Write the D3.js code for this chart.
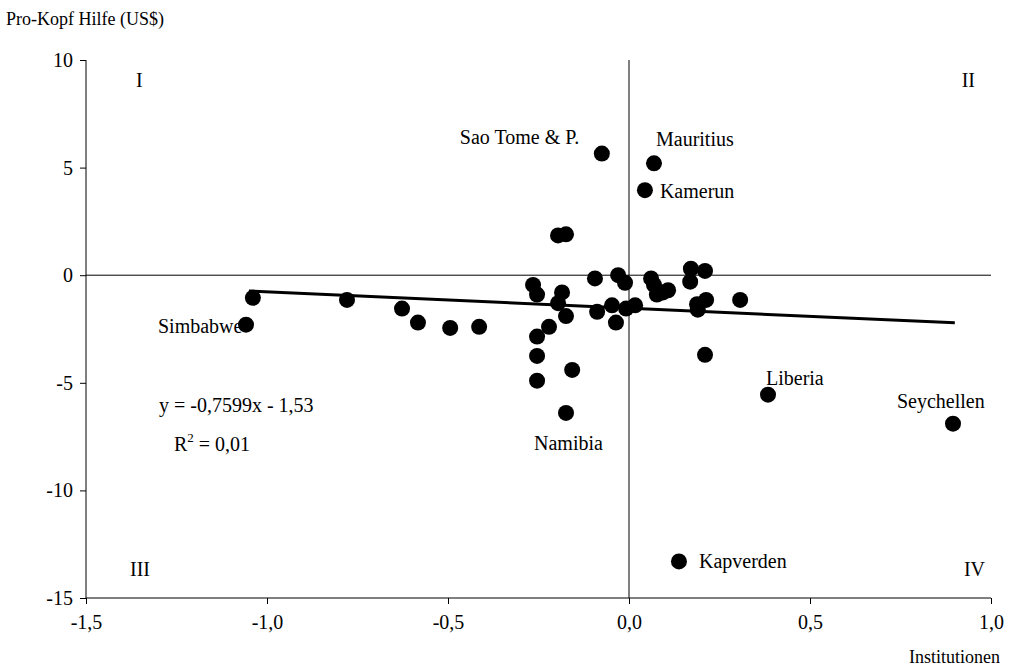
<!DOCTYPE html><html><head><meta charset="utf-8"><script src="https://d3js.org/d3.v7.min.js"></script>
<style>body{margin:0;background:#fff}text{font-family:"Liberation Serif","Times New Roman",serif;fill:#000}</style></head><body><svg width="1014" height="671"></svg><script>
const xs=[-1.058,-1.039,-0.779,-0.627,-0.583,-0.494,-0.414,-0.265,-0.254,-0.254,-0.254,-0.254,-0.174,-0.196,-0.185,-0.196,-0.174,-0.221,-0.157,-0.174,-0.075,-0.094,-0.088,-0.047,-0.03,-0.011,-0.036,-0.008,0.017,0.069,0.044,0.061,0.069,0.077,0.094,0.108,0.171,0.169,0.21,0.188,0.19,0.213,0.21,0.307,0.384,0.895,0.138];
const ys=[-2.3,-1.05,-1.15,-1.55,-2.2,-2.45,-2.4,-0.45,-0.9,-2.85,-3.75,-4.9,1.9,1.85,-0.8,-1.3,-1.9,-2.4,-4.4,-6.4,5.65,-0.15,-1.7,-1.4,0.0,-0.35,-2.2,-1.55,-1.4,5.2,3.95,-0.15,-0.45,-0.9,-0.8,-0.7,0.3,-0.3,0.2,-1.35,-1.6,-1.15,-3.7,-1.15,-5.55,-6.9,-13.3];
const labels=[{n:"Simbabwe",x:-1.058,y:-2.3,dx:-88,dy:8},{n:"Sao Tome & P.",x:-0.075,y:5.65,dx:-142,dy:-10},{n:"Mauritius",x:0.069,y:5.2,dx:2,dy:-17},{n:"Kamerun",x:0.044,y:3.95,dx:15,dy:8},{n:"Liberia",x:0.384,y:-5.55,dx:-2,dy:-10},{n:"Seychellen",x:0.895,y:-6.9,dx:-56,dy:-16},{n:"Namibia",x:-0.174,y:-6.4,dx:-32,dy:37},{n:"Kapverden",x:0.138,y:-13.3,dx:20,dy:7}];
const xt=[-1.5,-1.0,-0.5,0.0,0.5,1.0], yt=[-15,-10,-5,0,5,10];
const svg=d3.select("svg");
const x=d3.scaleLinear([-1.5,1],[86,991]), y=d3.scaleLinear([-15,10],[598,60]);
const fmt=d=>d.toFixed(1).replace(".",",");
svg.append("g").attr("transform","translate(0,598)").call(d3.axisBottom(x).tickValues(xt).tickFormat(fmt).tickSize(6)).call(g=>{g.selectAll("text").style("font-size","20px").attr("dy","1.1em");g.select(".domain").attr("d","M86,0H991")});
svg.append("g").attr("transform","translate(86,0)").call(d3.axisLeft(y).tickValues(yt).tickFormat(d=>String(d)).tickSize(6)).call(g=>{g.selectAll("text").style("font-size","20px").attr("dx","-4");g.select(".domain").attr("d","M0,598V60")});
svg.append("line").attr("x1",x(0)).attr("x2",x(0)).attr("y1",y(10)).attr("y2",y(-15)).attr("stroke","#000");
svg.append("line").attr("x1",x(-1.5)).attr("x2",x(1)).attr("y1",y(0)).attr("y2",y(0)).attr("stroke","#000");
svg.append("line").attr("x1",x(-1.05)).attr("x2",x(0.9)).attr("y1",y(-0.7599*-1.05-1.53)).attr("y2",y(-0.7599*0.9-1.53)).attr("stroke","#000").attr("stroke-width",3);
svg.selectAll("circle").data(xs).join("circle").attr("cx",d=>x(d)).attr("cy",(d,i)=>y(ys[i])).attr("r",8).attr("fill","#000");
labels.forEach(l=>svg.append("text").attr("x",x(l.x)+l.dx).attr("y",y(l.y)+l.dy).style("font-size","20px").text(l.n));
const t=(s,a,b,anchor,fs)=>svg.append("text").attr("x",a).attr("y",b).attr("text-anchor",anchor||"start").style("font-size",(fs||20)+"px").text(s);
t("Pro-Kopf Hilfe (US$)",6,25,"start",18);t("Institutionen",1000,663,"end",18);
t("I",136,87);t("II",975,87,"end");t("III",130,576);t("IV",985,576,"end");
t("y = -0,7599x - 1,53",159,412);
const r=svg.append("text").attr("x",174).attr("y",451).style("font-size","20px");r.append("tspan").text("R");r.append("tspan").attr("dy",-9).style("font-size","13px").text("2");r.append("tspan").attr("dy",9).text(" = 0,01");
</script></body></html>
